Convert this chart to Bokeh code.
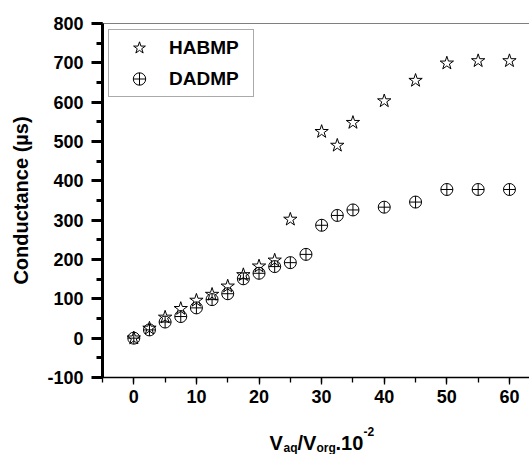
from bokeh.plotting import figure
from bokeh.layouts import column
from bokeh.models import (Range1d, SingleIntervalTicker, Legend, LegendItem, Span)
from bokeh.core.properties import value
from bokeh.embed import file_html
from bokeh.resources import INLINE

# ---- data ----
x_hab = [0, 2.5, 5, 7.5, 10, 12.5, 15, 17.5, 20, 22.5, 25, 30, 32.5, 35, 40, 45, 50, 55, 60]
y_hab = [0, 25, 53, 75, 96, 111, 132, 161, 183, 198, 302, 525, 490, 548, 603, 655, 699, 705, 705]
x_dad = [0, 2.5, 5, 7.5, 10, 12.5, 15, 17.5, 20, 22.5, 25, 27.5, 30, 32.5, 35, 40, 45, 50, 55, 60]
y_dad = [0, 21, 41, 55, 77, 98, 113, 151, 165, 182, 192, 213, 287, 312, 326, 333, 346, 378, 378, 378]
series_names = ["HABMP", "DADMP"]
y_ticks = [-100, 0, 100, 200, 300, 400, 500, 600, 700, 800]
y_tick_labels = ["-100", "0", "100", "200", "300", "400", "500", "600", "700", "800"]
x_ticks = [0, 10, 20, 30, 40, 50, 60]
x_tick_labels = ["0", "10", "20", "30", "40", "50", "60"]
y_title = "Conductance (µs)"
# x title pieces: main text and sub/superscripts
x_title_main = ["V", "/V", ".10"]
x_title_sub = ["aq", "org"]
x_title_sup = ["-2"]

FONT = "Liberation Sans"
X0, X1, Y0, Y1 = -5, 63.2, -100, 800
W = 529
H1, H2 = 410, 44
ML, MR, MT, MB = 102, 0, 23, 33

p = figure(width=W, height=H1, output_backend="svg", toolbar_location=None,
           x_range=Range1d(X0, X1), y_range=Range1d(Y0, Y1),
           min_border_left=ML, min_border_right=MR, min_border_top=MT, min_border_bottom=MB)
p.outline_line_color = None
p.xgrid.visible = False
p.ygrid.visible = False
p.background_fill_color = "white"
p.border_fill_color = "white"

# x axis
xa = p.xaxis[0]
xa.ticker = SingleIntervalTicker(interval=10, num_minor_ticks=2)
xa.major_label_overrides = {t: l for t, l in zip(x_ticks, x_tick_labels)}
xa.axis_line_width = 1.3
xa.major_tick_in = 0
xa.major_tick_out = 7
xa.minor_tick_in = 0
xa.minor_tick_out = 5
xa.major_tick_line_width = 1.3
xa.minor_tick_line_width = 1.3
xa.major_label_standoff = 5
xa.major_label_text_font = FONT
xa.major_label_text_font_style = "bold"
xa.major_label_text_font_size = "18px"
xa.major_label_text_color = "black"

# y axis
ya = p.yaxis[0]
ya.ticker = SingleIntervalTicker(interval=100, num_minor_ticks=2)
ya.major_label_overrides = {t: l for t, l in zip(y_ticks, y_tick_labels)}
ya.axis_line_width = 3
ya.major_tick_in = 0
ya.major_tick_out = 11
ya.minor_tick_in = 0
ya.minor_tick_out = 6
ya.major_tick_line_width = 3
ya.minor_tick_line_width = 3
ya.major_label_standoff = 8
ya.major_label_text_font = FONT
ya.major_label_text_font_style = "bold"
ya.major_label_text_font_size = "18px"
ya.major_label_text_color = "black"
ya.axis_label = y_title
ya.axis_label_standoff = 12
ya.axis_label_text_font = FONT
ya.axis_label_text_font_style = "bold"
ya.axis_label_text_font_size = "20px"
ya.axis_label_text_color = "black"

# top border
p.add_layout(Span(location=Y1, dimension="width", line_color="black", line_width=1))

r1 = p.scatter(x_hab, y_hab, marker="star", size=14, fill_alpha=0,
               line_color="black", line_width=1)
r2 = p.scatter(x_dad, y_dad, marker="circle_cross", size=12, fill_alpha=0,
               line_color="black", line_width=1)

legend = Legend(items=[LegendItem(label=series_names[0], renderers=[r1]),
                       LegendItem(label=series_names[1], renderers=[r2])],
                location="top_left", margin=6, padding=2, spacing=0,
                glyph_width=56, glyph_height=31, label_height=31, label_width=82,
                label_standoff=2, border_line_color="#555555", border_line_width=1,
                label_text_font=FONT, label_text_font_style="bold",
                label_text_font_size="19px", label_text_color="black")
p.add_layout(legend)

# strip below the chart holding the x-axis title (page-pixel coordinates, y downwards)
p2 = figure(width=W, height=H2, output_backend="svg", toolbar_location=None,
            x_range=Range1d(ML, W), y_range=Range1d(H2, 0),
            x_axis_type=None, y_axis_type=None,
            min_border_left=ML, min_border_right=0, min_border_top=0, min_border_bottom=0)
p2.outline_line_color = None
p2.grid.visible = False
p2.background_fill_color = "white"
p2.border_fill_color = "white"

main_x = [269, 297, 335]
sub_x = [283, 316]
sup_x = [363]
base = 442 - H1   # main baseline within the strip
p2.text(x=main_x, y=[base] * 3, text=x_title_main, text_font=value(FONT),
        text_font_style="bold", text_font_size="20px", text_color="black",
        text_align="left", text_baseline="alphabetic")
p2.text(x=sub_x, y=[base + 5] * 2, text=x_title_sub, text_font=value(FONT),
        text_font_style="bold", text_font_size="12px", text_color="black",
        text_align="left", text_baseline="alphabetic")
p2.text(x=sup_x, y=[base - 11], text=x_title_sup, text_font=value(FONT),
        text_font_style="bold", text_font_size="12px", text_color="black",
        text_align="left", text_baseline="alphabetic")

layout = column(p, p2, spacing=0)
open("out.html", "w").write(file_html(layout, INLINE))
